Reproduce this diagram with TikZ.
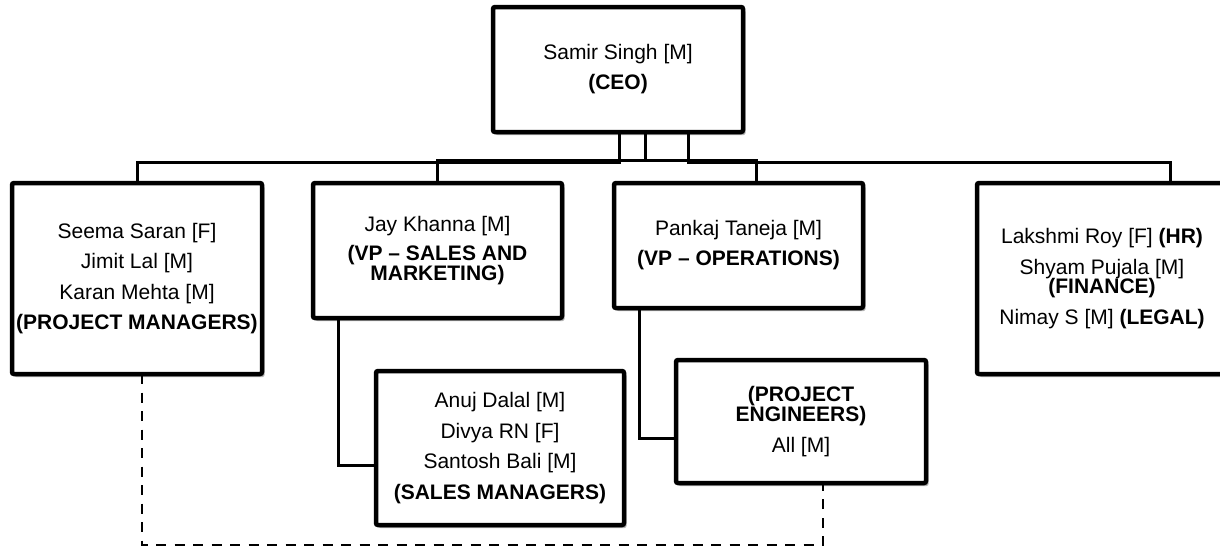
\documentclass[tikz,border=0pt]{standalone}
\usepackage{fontspec}
\setmainfont{Liberation Sans}
\usetikzlibrary{shadows}
\newcommand{\orgfont}{\fontsize{21pt}{20pt}\selectfont}
\tikzset{
  orgbox/.style={draw=black, line width=4.5pt, fill=white, rounded corners=2pt,
    inner sep=0pt, outer sep=0pt, align=center, font=\orgfont,
    drop shadow={shadow xshift=2.5pt, shadow yshift=-3pt, opacity=0.3, fill=black}},
  conn/.style={line width=3pt, line join=miter},
  dashlink/.style={line width=2.8pt, dash pattern=on 10pt off 8.5pt},
}
\begin{document}
\begin{tikzpicture}[x=1pt, y=-1pt]
  \path[fill=white, use as bounding box] (0,0) rectangle (1220,550);

  % chart boxes
  \node[orgbox, minimum width=250pt, minimum height=125pt] (ceo) at (618,69.5)
    {Samir Singh [M]\\[10pt]\textbf{(CEO)}};
  \node[orgbox, minimum width=250pt, minimum height=191pt] (seema) at (137,278.5)
    {Seema Saran [F]\\[10.5pt]Jimit Lal [M]\\[10.5pt]Karan Mehta [M]\\[10.5pt]\textbf{(PROJECT MANAGERS)}};
  \node[orgbox, minimum width=249pt, minimum height=135pt] (jay) at (437.5,250.5)
    {Jay Khanna [M]\\[9pt]\textbf{(VP – SALES AND}\\\textbf{MARKETING)}};
  \node[orgbox, minimum width=249pt, minimum height=125pt] (pankaj) at (738.5,245.5)
    {Pankaj Taneja [M]\\[10pt]\textbf{(VP – OPERATIONS)}};
  \node[orgbox, minimum width=250pt, minimum height=191pt] (lakshmi) at (1102,278.5)
    {Lakshmi Roy [F] \textbf{(HR)}\\[11pt]Shyam Pujala [M]\\[-1pt]\textbf{(FINANCE)}\\[11pt]Nimay S [M] \textbf{(LEGAL)}};
  \node[orgbox, minimum width=248pt, minimum height=154pt] (anuj) at (500,448)
    {Anuj Dalal [M]\\[10.5pt]Divya RN [F]\\[10.5pt]Santosh Bali [M]\\[10.5pt]\textbf{(SALES MANAGERS)}};
  \node[orgbox, minimum width=250pt, minimum height=123pt] (pe) at (801,421.5)
    {\textbf{(PROJECT}\\\textbf{ENGINEERS)}\\[11pt]All [M]};

  % bus levels and attachment points
  \coordinate (busA) at (0,160);
  \coordinate (busB) at (0,162);
  \coordinate (ceoA) at ([xshift=1pt]ceo.south);
  \coordinate (ceoB) at ([xshift=27pt]ceo.south);
  \coordinate (ceoC) at ([xshift=70pt]ceo.south);
  \coordinate (pkIn) at ([xshift=17.5pt]pankaj.north);
  \coordinate (lkIn) at ([xshift=68pt]lakshmi.north);

  % CEO to the first level
  \draw[conn] (ceoA) |- (busB -| seema.north) -- (seema.north);
  \draw[conn] (ceoB) |- (busA -| jay.north) -- (jay.north);
  \draw[conn] (ceoA) |- (busA -| pkIn) -- (pkIn);
  \draw[conn] (ceoC) |- (busB -| lkIn) -- (lkIn);

  % VPs to their teams
  \coordinate (jyOut) at ([xshift=-99.5pt]jay.south);
  \coordinate (anIn) at ([yshift=-17pt]anuj.west);
  \draw[conn] (jyOut) |- (anIn);
  \coordinate (pkOut) at ([xshift=-99.5pt]pankaj.south);
  \coordinate (peIn) at ([yshift=-16.5pt]pe.west);
  \draw[conn] (pkOut) |- (peIn);

  % dashed link between project managers and engineers
  \coordinate (smOut) at ([xshift=5pt]seema.south);
  \coordinate (peOut) at ([xshift=22pt]pe.south);
  \coordinate (dashFoot) at (0,545);
  \draw[dashlink] (smOut) |- (dashFoot -| peOut) -- (peOut);
\end{tikzpicture}
\end{document}
